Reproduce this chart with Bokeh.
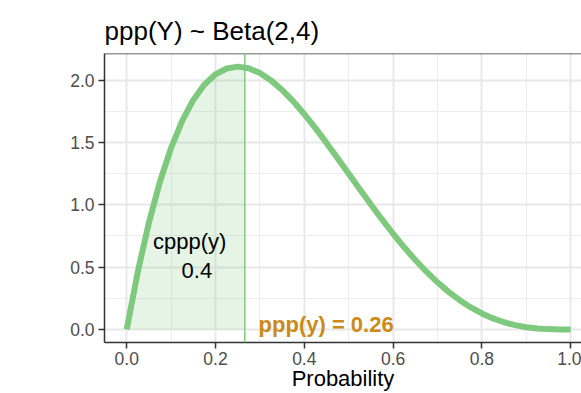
from bokeh.plotting import figure
from bokeh.models import FixedTicker, Span, Range1d
from bokeh.core.properties import value
from bokeh.embed import file_html
from bokeh.resources import INLINE

# Beta(2,4) density
prob = [0.0, 0.025, 0.05, 0.075, 0.1, 0.125, 0.15, 0.175, 0.2, 0.225, 0.25,
        0.275, 0.3, 0.325, 0.35, 0.375, 0.4, 0.425, 0.45, 0.475, 0.5,
        0.525, 0.55, 0.575, 0.6, 0.625, 0.65, 0.675, 0.7, 0.725, 0.75,
        0.775, 0.8, 0.825, 0.85, 0.875, 0.9, 0.925, 0.95, 0.975, 1.0]
density = [0.0, 0.4634, 0.8574, 1.1872, 1.458, 1.6748, 1.8424, 1.9653, 2.048, 2.0947, 2.1094,
           2.0959, 2.058, 1.9991, 1.9224, 1.8311, 1.728, 1.6159, 1.4974, 1.3747, 1.25,
           1.1253, 1.0024, 0.8828, 0.768, 0.6592, 0.5574, 0.4634, 0.378, 0.3016, 0.2344,
           0.1766, 0.128, 0.0884, 0.0574, 0.0342, 0.018, 0.0078, 0.0024, 0.0003, 0.0]

ppp = 0.266
ppp_density = 2.1038
cppp = 0.4

x_ticks = [0.0, 0.2, 0.4, 0.6, 0.8, 1.0]
x_labels = ["0.0", "0.2", "0.4", "0.6", "0.8", "1.0"]
x_minor = [0.1, 0.3, 0.5, 0.7, 0.9]
y_ticks = [0.0, 0.5, 1.0, 1.5, 2.0]
y_labels = ["0.0", "0.5", "1.0", "1.5", "2.0"]
y_minor = [0.25, 0.75, 1.25, 1.75]

shade_x = [x for x in prob if x <= ppp] + [ppp]
shade_y = [d for x, d in zip(prob, density) if x <= ppp] + [ppp_density]

GREEN = "#7FC97F"
ORANGE = "#CC8A1A"
FONT = "Liberation Sans"
X0, X1, Y0, Y1 = -0.05, 1.0243, -0.105, 2.215

p = figure(width=581, height=393, output_backend="svg", toolbar_location=None,
           x_range=Range1d(X0, X1), y_range=Range1d(Y0, Y1),
           min_border_left=104, min_border_right=0, min_border_top=53, min_border_bottom=51)
p.background_fill_color = "white"
p.border_fill_color = "white"
p.outline_line_color = None

p.title.text = "ppp(Y) ~ Beta(2,4)"
p.title.text_font = FONT
p.title.text_font_size = "26px"
p.title.text_font_style = "normal"
p.title.text_color = "black"
p.title.standoff = 15
p.title.offset = 0

# grids
p.xaxis.ticker = FixedTicker(ticks=x_ticks, minor_ticks=x_minor)
p.yaxis.ticker = FixedTicker(ticks=y_ticks, minor_ticks=y_minor)
p.xaxis.major_label_overrides = dict(zip(x_ticks, x_labels))
p.yaxis.major_label_overrides = dict(zip(y_ticks, y_labels))
for g in (p.xgrid, p.ygrid):
    g.grid_line_color = "#E8E8E8"
    g.grid_line_width = 2.0
    g.minor_grid_line_color = "#EDEDED"
    g.minor_grid_line_width = 1.2

for ax in (p.xaxis, p.yaxis):
    ax.axis_line_color = "#333333"
    ax.axis_line_width = 1.5
    ax.major_tick_line_color = "#333333"
    ax.major_tick_line_width = 1.5
    ax.major_tick_out = 6
    ax.major_tick_in = 0
    ax.minor_tick_line_color = None
    ax.major_label_text_font = FONT
    ax.major_label_text_font_size = "17.5px"
    ax.major_label_text_color = "#4D4D4D"
    ax.major_label_standoff = 4

p.xaxis.major_label_standoff = 3
p.xaxis.axis_label = "Probability"
p.xaxis.axis_label_text_font = FONT
p.xaxis.axis_label_text_font_size = "22px"
p.xaxis.axis_label_text_font_style = "normal"
p.xaxis.axis_label_text_color = "black"
p.xaxis.axis_label_standoff = -2

# top border
p.add_layout(Span(location=Y1, dimension="width", line_color="#333333", line_width=1.5))

# shaded area
p.varea(x=shade_x, y1=[0.0] * len(shade_x), y2=shade_y, fill_color=GREEN, fill_alpha=0.2)

# vertical line at ppp
p.add_layout(Span(location=ppp, dimension="height", line_color=GREEN, line_width=1.5))

# density curve
p.line(prob, density, line_color=GREEN, line_width=6)

# annotations
p.text(x=[0.142], y=[0.707], text=["cppp(y)"], text_align="center", text_baseline="middle",
       text_font=value(FONT), text_font_size="22px", text_color="black")
p.text(x=[0.158], y=[0.474], text=[str(cppp)], text_align="center", text_baseline="middle",
       text_font=value(FONT), text_font_size="22px", text_color="black")
p.text(x=[0.297], y=[0.04], text=["ppp(y) = 0.26"], text_align="left", text_baseline="middle",
       text_font=value(FONT), text_font_size="22px", text_font_style="bold", text_color=ORANGE)

open("out.html", "w").write(file_html(p, INLINE))
